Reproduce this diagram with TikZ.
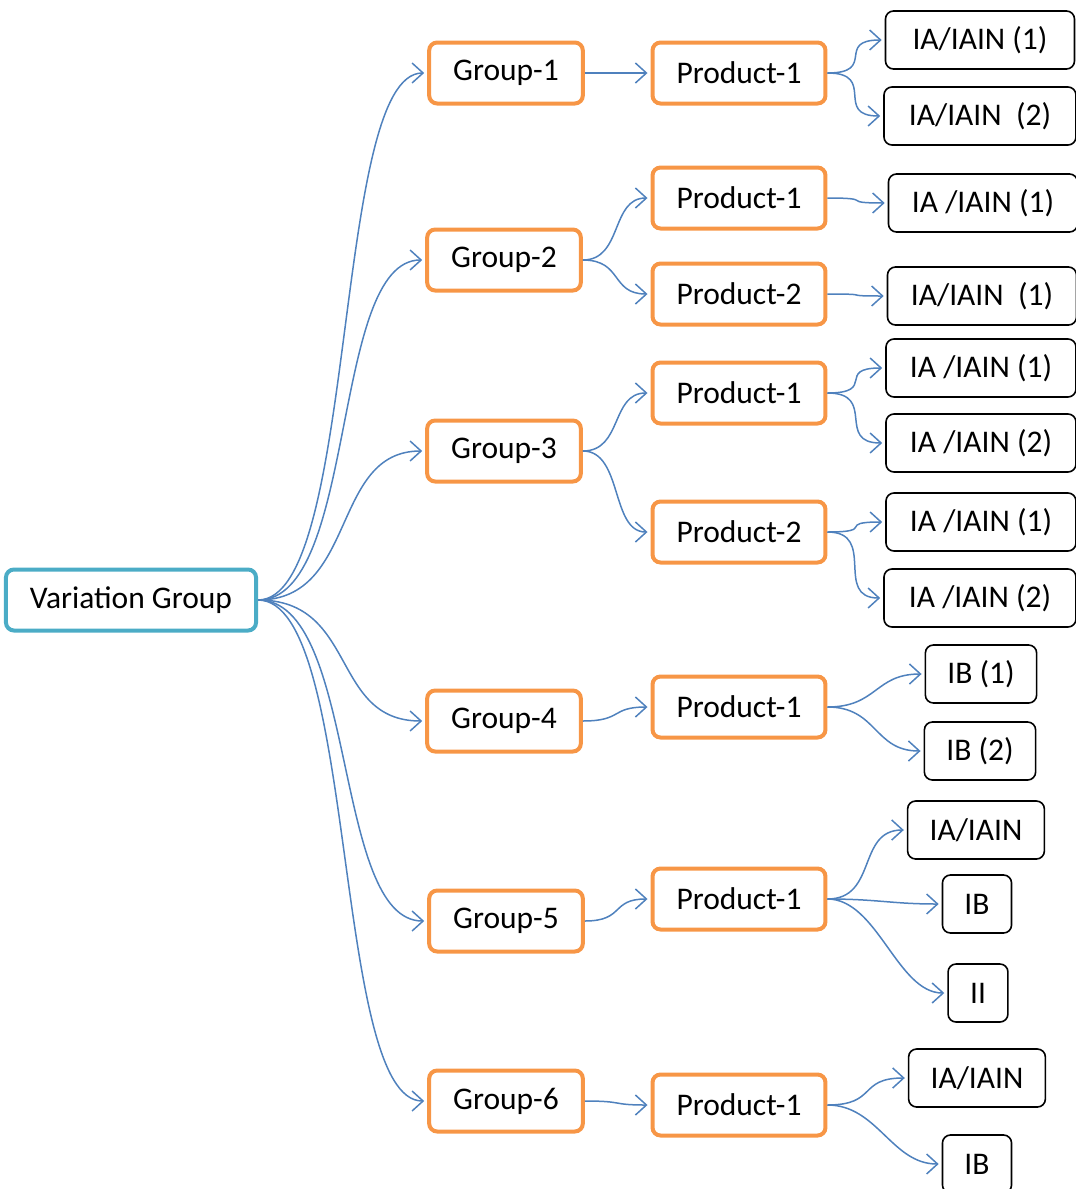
\documentclass[tikz,border=0pt]{standalone}
\usepackage{fontspec}
\setmainfont{Carlito}
\usetikzlibrary{arrows.meta}

\definecolor{linkblue}{HTML}{4F81BD}
\definecolor{rootteal}{HTML}{4BACC6}
\definecolor{grporange}{HTML}{F79646}

\tikzset{
	box/.style={rounded corners=8pt, align=center, inner ysep=0pt, minimum height=61pt,
		font=\fontsize{31.5}{37}\selectfont},
	root/.style={box, draw=rootteal, line width=4pt, inner xsep=24pt},
	grp/.style={box, draw=grporange, line width=4pt, inner xsep=24pt},
	leaf/.style={box, draw=black, line width=1.6pt, inner xsep=22pt, minimum height=58pt},
	link/.style={draw=linkblue, line width=1.5pt, shorten >=3pt,
		-{Straight Barb[length=11pt, width=20pt, line width=1.5pt]}},
}

\begin{document}
\begin{tikzpicture}[x=1pt, y=-1pt]
		\useasboundingbox (0,0) rectangle (1076,1189);
		% root and groups
		\node[root] (vg) at (131,600) {Variation Group};
		\node[grp] (g1) at (506,73) {Group-1};
		\node[grp] (g2) at (504,260) {Group-2};
		\node[grp] (g3) at (504,451) {Group-3};
		\node[grp] (g4) at (504,721) {Group-4};
		\node[grp] (g5) at (506,921) {Group-5};
		\node[grp] (g6) at (506,1101) {Group-6};
		% products
		\node[grp] (p11) at (739,73) {Product-1};
		\node[grp] (p21) at (739,198) {Product-1};
		\node[grp] (p22) at (739,294) {Product-2};
		\node[grp] (p31) at (739,393) {Product-1};
		\node[grp] (p32) at (739,532) {Product-2};
		\node[grp] (p41) at (739,707) {Product-1};
		\node[grp] (p51) at (739,899) {Product-1};
		\node[grp] (p61) at (739,1105) {Product-1};
		% leaves
		\node[leaf, minimum width=189pt] (l1a) at (980,40) {IA/IAIN (1)};
		\node[leaf, minimum width=192pt] (l1b) at (980,116) {IA/IAIN\ \ (2)};
		\node[leaf, minimum width=189pt] (l2a) at (983,203) {IA /IAIN (1)};
		\node[leaf, minimum width=189pt] (l2b) at (982,296) {IA/IAIN\ \ (1)};
		\node[leaf, minimum width=190pt] (l3a) at (981,368) {IA /IAIN (1)};
		\node[leaf, minimum width=190pt] (l3b) at (981,443) {IA /IAIN (2)};
		\node[leaf, minimum width=190pt] (l3c) at (981,522) {IA /IAIN (1)};
		\node[leaf, minimum width=192pt] (l3d) at (980,598) {IA /IAIN (2)};
		\node[leaf] (l4a) at (981,674) {IB (1)};
		\node[leaf] (l4b) at (980,751) {IB (2)};
		\node[leaf] (l5a) at (976,830) {IA/IAIN};
		\node[leaf] (l5b) at (977,904) {IB};
		\node[leaf] (l5c) at (978,993) {II};
		\node[leaf] (l6a) at (977,1078) {IA/IAIN};
		\node[leaf] (l6b) at (977,1164) {IB};
		% connectors
		\foreach \g in {g1, g2, g3, g4, g5, g6}
			\draw[link] (vg.east) .. controls +(100,0) and +(-95,0) .. (\g.west);
		\foreach \a/\b in {g1/p11, g2/p21, g2/p22, g3/p31, g3/p32, g4/p41, g5/p51, g6/p61}
			\draw[link] (\a.east) .. controls +(40,0) and +(-40,0) .. (\b.west);
		\foreach \a/\b in {p11/l1a, p11/l1b, p21/l2a, p22/l2b, p31/l3a, p31/l3b, p32/l3c, p32/l3d,
				p41/l4a, p41/l4b, p51/l5a, p51/l5b, p51/l5c, p61/l6a, p61/l6b}
			\draw[link] (\a.east) .. controls +(50,0) and +(-50,0) .. (\b.west);
	\end{tikzpicture}
\end{document}
